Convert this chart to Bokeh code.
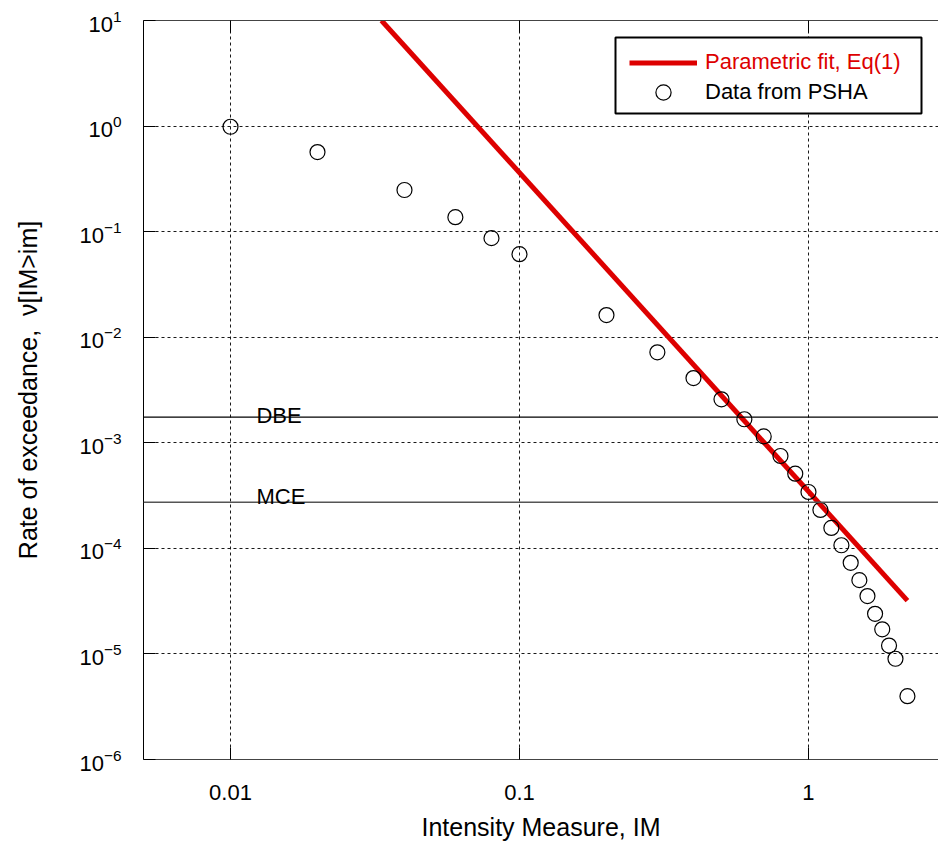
import math
from bokeh.plotting import figure
from bokeh.models import (FixedTicker, LogAxis, CustomJSTickFormatter, Span, Label,
                          Legend, LegendItem, BoxAnnotation, Range1d)
from bokeh.embed import file_html
from bokeh.resources import INLINE

# ---------------- data ----------------
im_data = [0.01, 0.02, 0.04, 0.06, 0.08, 0.1, 0.2, 0.3, 0.4, 0.5, 0.6, 0.7,
           0.8, 0.9, 1.0, 1.1, 1.2, 1.3, 1.4, 1.5, 1.6, 1.7, 1.8, 1.9, 2.0, 2.2]
rate_data = [0.985, 0.567, 0.248, 0.137, 0.0868, 0.0612, 0.0162, 0.0072, 0.0041,
             0.00258, 0.00167, 0.00115, 7.5e-4, 5.1e-4, 3.42e-4, 2.31e-4, 1.56e-4,
             1.07e-4, 7.3e-5, 5.0e-5, 3.53e-5, 2.4e-5, 1.71e-5, 1.2e-5, 9.0e-6, 3.98e-6]
fit_im = [0.0333, 2.2]
fit_rate = [10.0, 3.2e-5]
hazard_names = ["DBE", "MCE"]
hazard_rates = [1.75e-3, 2.73e-4]
x_ticks = [0.01, 0.1, 1]
y_ticks = [1e-6, 1e-5, 1e-4, 1e-3, 1e-2, 1e-1, 1e0, 1e1]
x_title = "Intensity Measure, IM"
y_title = "Rate of exceedance,\u00a0\u00a0\u03bd[IM>im]"

# ---------------- layout constants ----------------
X0, X1 = 0.005, 2.818
Y0, Y1 = 1e-6, 10.0
FW, FH = 795, 739
FONT = "Liberation Sans"
RED = "#dd0000"


def fx(px):
    return 10 ** (math.log10(X0) + px * math.log10(X1 / X0) / FW)


def fy(py):
    return 10 ** (math.log10(Y0) + py * math.log10(Y1 / Y0) / FH)


p = figure(x_axis_type="log", y_axis_type="log",
           x_range=Range1d(X0, X1), y_range=Range1d(Y0, Y1),
           frame_width=FW, frame_height=FH,
           min_border_left=143, min_border_right=0, min_border_top=20, min_border_bottom=82,
           output_backend="svg", toolbar_location=None,
           background_fill_color="white", border_fill_color="white",
           outline_line_color=None)

x_ticker = FixedTicker(ticks=x_ticks, minor_ticks=[])
y_ticker = FixedTicker(ticks=y_ticks, minor_ticks=[])

xa = p.xaxis[0]
xa.ticker = x_ticker
xa.formatter = CustomJSTickFormatter(code="return String(parseFloat(tick.toPrecision(6)));")
xa.axis_label = x_title
xa.major_label_standoff = 25
xa.axis_label_standoff = 10
xa.axis_line_color = "#444444"

ya = p.yaxis[0]
ya.ticker = y_ticker
ya.axis_label = y_title
ya.major_label_standoff = 22
ya.axis_label_standoff = 34
ya.axis_line_color = "black"

for ax in (xa, ya):
    ax.major_tick_in = 12
    ax.major_tick_out = 0
    ax.minor_tick_in = 0
    ax.minor_tick_out = 0
    ax.major_tick_line_color = "black"
    ax.major_label_text_font = FONT
    ax.major_label_text_font_size = "22px"
    ax.major_label_text_color = "black"
    ax.axis_label_text_font = FONT
    ax.axis_label_text_font_size = "25px"
    ax.axis_label_text_font_style = "normal"
    ax.axis_label_text_color = "black"

top = LogAxis(ticker=x_ticker, formatter=CustomJSTickFormatter(code="return '';"),
              major_label_text_font_size="10px", major_label_standoff=0,
              major_tick_in=12, major_tick_out=0, minor_tick_in=0, minor_tick_out=0,
              axis_line_color="#444444", major_tick_line_color="black")
p.add_layout(top, "above")

p.xgrid.ticker = x_ticker
p.ygrid.ticker = y_ticker
for g in (p.xgrid, p.ygrid):
    g.grid_line_color = "black"
    g.grid_line_dash = "3 3"
    g.grid_line_width = 1
    g.grid_line_alpha = 0.9

# hazard levels
for name, rate, off in zip(hazard_names, hazard_rates, [1.6, 6.3]):
    p.add_layout(Span(location=rate, dimension="width",
                      line_color="black" if name == "DBE" else "#555555",
                      line_width=1.3 if name == "DBE" else 1.6))
    p.add_layout(Label(x=0.0123, y=rate, text=name, y_offset=off,
                       text_baseline="alphabetic", text_font=FONT,
                       text_font_size="22px", text_color="black"))

fit_r = p.line(fit_im, fit_rate, line_color=RED, line_width=5)
pts_r = p.scatter(im_data, rate_data, marker="circle", size=15,
                  fill_color=None, line_color="black", line_width=1.2)

# legend frame + two legends (different text colours)
p.add_layout(BoxAnnotation(left=fx(472), right=fx(778), bottom=fy(646), top=fy(722),
                           fill_color="white", fill_alpha=1.0,
                           line_color="black", line_alpha=1.0, line_width=2))

common = dict(padding=0, margin=0, spacing=0, glyph_width=68,
              label_height=27, label_standoff=8, border_line_color=None,
              background_fill_alpha=0, label_text_font=FONT,
              label_text_font_size="22px")
leg_fit = Legend(items=[LegendItem(label="Parametric fit, Eq(1)", renderers=[fit_r])],
                 location=(486, 683.5), glyph_height=27, label_text_color=RED, **common)
leg_pts = Legend(items=[LegendItem(label="Data from PSHA", renderers=[pts_r])],
                 location=(486, 648), glyph_height=38, label_text_color="black", **common)
p.add_layout(leg_fit)
p.add_layout(leg_pts)

open("out.html", "w").write(file_html(p, INLINE))
